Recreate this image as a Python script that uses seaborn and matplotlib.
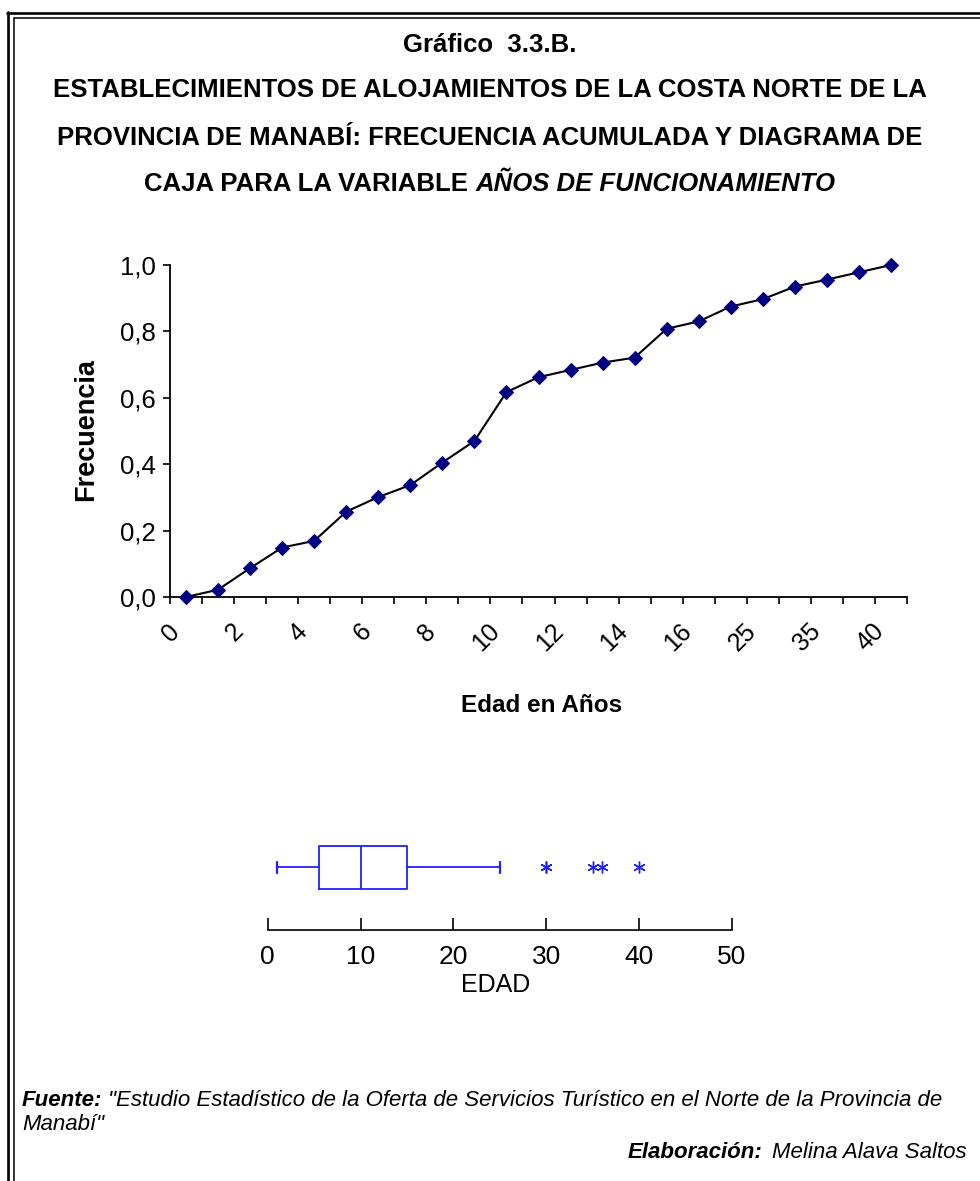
import matplotlib
matplotlib.use("Agg")
import matplotlib.pyplot as plt
import matplotlib.transforms as mtransforms
from matplotlib.lines import Line2D
from matplotlib.ticker import FixedLocator, FuncFormatter, NullFormatter
import seaborn as sns
import pandas as pd

# ---------------- data ----------------
edad_categorias = [0, 1, 2, 3, 4, 5, 6, 7, 8, 9, 10, 11, 12, 13, 14, 15, 16, 20, 25, 30, 35, 36, 40]
frecuencia_acumulada = [0.000, 0.022, 0.087, 0.149, 0.169, 0.257, 0.301, 0.337, 0.405, 0.470,
                        0.617, 0.662, 0.684, 0.706, 0.721, 0.808, 0.830, 0.875, 0.897, 0.935,
                        0.956, 0.978, 1.000]
y_ticks = [0.0, 0.2, 0.4, 0.6, 0.8, 1.0]

# boxplot summary
box_min = 1
box_q1 = 5.5
box_mediana = 10
box_q3 = 15
box_max = 25
box_atipicos = [30, 30, 35, 36, 40]
box_ticks = [0, 10, 20, 30, 40, 50]

titulo_1 = "Gráfico  3.3.B."
titulo_2 = "ESTABLECIMIENTOS DE ALOJAMIENTOS DE LA COSTA NORTE DE LA"
titulo_3 = "PROVINCIA DE MANABÍ: FRECUENCIA ACUMULADA Y DIAGRAMA DE"
titulo_4a = "CAJA PARA LA VARIABLE"
titulo_4b = "AÑOS DE FUNCIONAMIENTO"
fuente_a = "Fuente:"
fuente_b = ' "Estudio Estadístico de la Oferta de Servicios Turístico en el Norte de la Provincia de'
fuente_c = 'Manabí"'
elab_a = "Elaboración:"
elab_b = "Melina Alava Saltos"

# ---------------- style ----------------
sns.set_theme(style="white")
plt.rcParams["font.family"] = ["Liberation Sans", "DejaVu Sans"]
plt.rcParams["text.color"] = "black"
plt.rcParams["axes.labelcolor"] = "black"
plt.rcParams["xtick.color"] = "black"
plt.rcParams["ytick.color"] = "black"

W, H = 980, 1181
fig = plt.figure(figsize=(W / 100, H / 100), dpi=100)
fig.patch.set_facecolor("white")


def fx(px):
    return px / W


def fy(py):
    return 1 - py / H


# ---------------- cumulative frequency line ----------------
ax = fig.add_axes([fx(170), fy(597), fx(907) - fx(170), fy(265) - fy(597)])
df = pd.DataFrame({"pos": list(range(len(edad_categorias))), "frec": frecuencia_acumulada})
sns.lineplot(data=df, x="pos", y="frec", ax=ax, color="black", linewidth=1.5,
             marker="D", markersize=7, markerfacecolor="#000080",
             markeredgecolor="#000080", clip_on=False, zorder=3)
n = len(edad_categorias)
ax.set_xlim(-0.5, n - 0.5)
ax.set_ylim(0, 1)
ax.set_facecolor("white")
for s in ["top", "right"]:
    ax.spines[s].set_visible(False)
for s in ["left", "bottom"]:
    ax.spines[s].set_color("black")
    ax.spines[s].set_linewidth(1.3)

ax.yaxis.set_major_locator(FixedLocator(y_ticks))
ax.yaxis.set_major_formatter(FuncFormatter(lambda v, p: f"{v:.1f}".replace(".", ",")))
ax.tick_params(axis="y", which="major", direction="out", length=5, width=1.2,
               color="black", labelsize=18.5, pad=5, left=True)

ax.xaxis.set_major_locator(FixedLocator([i - 0.5 for i in range(n + 1)]))
ax.xaxis.set_major_formatter(NullFormatter())
lab_pos = list(range(0, n, 2))
ax.xaxis.set_minor_locator(FixedLocator(lab_pos))
ax.xaxis.set_minor_formatter(FuncFormatter(lambda v, p: str(edad_categorias[int(round(v))])))
ax.tick_params(axis="x", which="major", direction="out", length=5, width=1.2,
               color="black", bottom=True)
ax.tick_params(axis="x", which="minor", length=0, labelsize=18, pad=16, bottom=True)
offset = mtransforms.ScaledTranslation(-2 / 100, 0, fig.dpi_scale_trans)
for lab in ax.xaxis.get_minorticklabels():
    lab.set_rotation(45)
    lab.set_ha("right")
    lab.set_va("top")
    lab.set_transform(lab.get_transform() + offset)
ax.set_xlabel("")
ax.set_ylabel("")

fig.text(fx(542), fy(706), "Edad en Años", fontsize=17.5, fontweight="bold",
         ha="center", va="center")
fig.text(fx(86), fy(430), "Frecuencia", fontsize=19.5, fontweight="bold",
         ha="center", va="center", rotation=90)

# ---------------- boxplot ----------------
axb = fig.add_axes([fx(267.7), fy(930), fx(732) - fx(267.7), fy(830) - fy(930)])
stats = [dict(med=box_mediana, q1=box_q1, q3=box_q3, whislo=box_min,
              whishi=box_max, fliers=box_atipicos)]
azul = "#2020FF"
kw = dict(positions=[0], widths=0.43, capwidths=0.11,
          boxprops=dict(color=azul, linewidth=1.3),
          medianprops=dict(color=azul, linewidth=1.3),
          whiskerprops=dict(color=azul, linewidth=1.3),
          capprops=dict(color=azul, linewidth=1.6),
          flierprops=dict(marker=(6, 2, 0), markeredgecolor=azul, markerfacecolor=azul,
                          markersize=8.5, markeredgewidth=1.0, linestyle="none"))
try:
    axb.bxp(stats, orientation="horizontal", **kw)
except TypeError:
    axb.bxp(stats, vert=False, **kw)
axb.set_xlim(0, 50)
axb.set_ylim(-0.63, 0.37)
axb.set_facecolor("none")
for s in ["top", "right", "left"]:
    axb.spines[s].set_visible(False)
axb.spines["bottom"].set_color("black")
axb.spines["bottom"].set_linewidth(1.2)
axb.xaxis.set_major_locator(FixedLocator(box_ticks))
axb.xaxis.set_major_formatter(FuncFormatter(lambda v, p: f"{int(v)}"))
axb.tick_params(axis="x", direction="in", length=9, width=1.2, color="black",
                labelsize=19, pad=11, bottom=True)
axb.set_yticks([])
fig.text(fx(496), fy(985), "EDAD", fontsize=18, ha="center", va="center")

# ---------------- titles ----------------
TS = 18.5
fig.text(0.5, fy(45), titulo_1, fontsize=TS, fontweight="bold", ha="center", va="center")
fig.text(0.5, fy(90), titulo_2, fontsize=TS, fontweight="bold", ha="center", va="center")
fig.text(0.5, fy(138), titulo_3, fontsize=TS, fontweight="bold", ha="center", va="center")
r = fig.canvas.get_renderer()
t4a = fig.text(0, fy(184), titulo_4a, fontsize=TS, fontweight="bold", ha="left", va="center")
t4b = fig.text(0, fy(184), titulo_4b, fontsize=TS, fontweight="bold", style="italic",
               ha="left", va="center")
w1 = t4a.get_window_extent(r).width
w2 = t4b.get_window_extent(r).width
sp = 0.278 * TS * 100 / 72
x0 = (W - (w1 + sp + w2)) / 2
t4a.set_x(fx(x0))
t4b.set_x(fx(x0 + w1 + sp))

# ---------------- footer ----------------
FS = 16
fa = fig.text(fx(22), fy(1100), fuente_a, fontsize=FS, fontweight="bold", style="italic",
              ha="left", va="center")
wfa = fa.get_window_extent(r).width
fig.text(fx(22 + wfa), fy(1100), fuente_b, fontsize=FS, style="italic", ha="left", va="center")
fig.text(fx(22), fy(1124), fuente_c, fontsize=FS, style="italic", ha="left", va="center")
eb = fig.text(fx(967), fy(1153), elab_b, fontsize=FS, style="italic", ha="right", va="center")
web = eb.get_window_extent(r).width
fig.text(fx(967 - web - 10), fy(1153), elab_a, fontsize=FS, fontweight="bold", style="italic",
         ha="right", va="center")

# ---------------- double border (top & left) ----------------
fig.add_artist(Line2D([fx(7), fx(980)], [fy(12.5), fy(12.5)], color="black", lw=1.9))
fig.add_artist(Line2D([fx(13.5), fx(980)], [fy(18), fy(18)], color="black", lw=1.1))
fig.add_artist(Line2D([fx(8), fx(8)], [fy(11.5), fy(1181)], color="black", lw=1.9))
fig.add_artist(Line2D([fx(14), fx(14)], [fy(17.5), fy(1181)], color="black", lw=1.1))

fig.savefig("out.png", dpi=100, facecolor="white")
